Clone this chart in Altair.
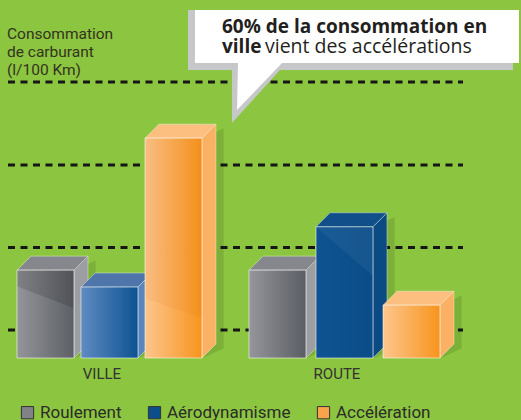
import altair as alt
import pandas as pd

# ---------------- data ----------------
categories = ["VILLE", "ROUTE"]
series = ["Roulement", "Aérodynamisme", "Accélération"]
ville_values = [2.13, 1.72, 5.33]
route_values = [2.13, 3.18, 1.28]
gridlines = [0.68, 2.68, 4.68, 6.69]
title_lines = ["Consommation", "de carburant", "(l/100 Km)"]
bubble_bold_1 = "60% de la consommation en"
bubble_bold_2 = "ville"
bubble_regular_2 = "vient des accélérations"

# ---------------- style / layout ----------------
BG = "#8cc53f"
legend_colors = ["#808288", "#0b4e8b", "#f9a34c"]
front_grad = {
    ("VILLE", 0): ["#939599", "#5c5f65"],
    ("VILLE", 1): ["#5f8bc2", "#0d5291"],
    ("VILLE", 2): ["#fdc68d", "#f7941d"],
    ("ROUTE", 0): ["#94969b", "#5a5d63"],
    ("ROUTE", 1): ["#0f5491", "#0a4c88"],
    ("ROUTE", 2): ["#fdc68d", "#f7941d"],
}
top_colors = {0: "#85878c", 1: None, 2: "#fcbf80"}
top_blue = {"VILLE": "#4e76aa", "ROUTE": "#114f8b"}
side_colors = {0: "#9c9ea2", 1: None, 2: "#fbb164"}
side_blue = {"VILLE": "#5a86bd", "ROUTE": "#0c4a84"}
# glossy diagonal reflections: (drop at left, drop at right) in pixels, colour, opacity
reflections = {
    ("VILLE", 0): (16, 38, "#000000", 0.13),
    ("VILLE", 2): (160, 180, "#c05000", 0.07),
    ("ROUTE", 1): (0, 49, "#ffffff", 0.05),
}

PX_PER_UNIT = 41.25
BAR_W = 0.89              # bar width in slot units
GROUP_STEP = 3.625        # group step in slot units
INNER_STEP = [1.0, 67 / 64]
DX = 14 / 64              # depth in slot units
DY = 14 / PX_PER_UNIT     # depth in value units

xs = alt.Scale(domain=[0, 1], range=[17, 81], zero=False, nice=False)
ys = alt.Scale(domain=[0, 1], range=[358, 358 - PX_PER_UNIT], zero=False, nice=False)

values = {"VILLE": ville_values, "ROUTE": route_values}

rows = []
for g, cat in enumerate(categories):
    for i, s in enumerate(series):
        left = g * GROUP_STEP + i * INNER_STEP[g]
        rows.append(dict(cat=cat, series=s, idx=i, left=left,
                         right=left + BAR_W, v=values[cat][i], base=0.0))
bars = pd.DataFrame(rows)

layers = []

# gridlines
grid_df = pd.DataFrame({"g": gridlines})
layers.append(
    alt.Chart(grid_df).mark_rule(color="#161616", strokeWidth=3, strokeDash=[7, 5.5])
    .encode(y=alt.Y("g:Q", scale=ys, axis=None), x=alt.value(8), x2=alt.value(463))
)

# legend-carrying base layer (hidden under the shaded fronts)
layers.append(
    alt.Chart(bars).mark_rect()
    .encode(
        x=alt.X("left:Q", scale=xs, axis=None), x2="right:Q",
        y=alt.Y("base:Q", scale=ys, axis=None), y2="v:Q",
        color=alt.Color("series:N",
                        scale=alt.Scale(domain=series, range=legend_colors),
                        sort=series,
                        legend=alt.Legend(orient="none", legendX=19, legendY=404,
                                          direction="horizontal", title=None,
                                          symbolType="square", symbolSize=150,
                                          symbolStrokeColor="#333333", symbolStrokeWidth=1,
                                          labelFontSize=17, labelFont="Roboto",
                                          labelColor="#2b2b2b", columnPadding=24,
                                          labelOffset=4, padding=0)),
    )
)

for _, b in bars.iterrows():
    L, R, v, i, cat = b["left"], b["right"], b["v"], b["idx"], b["cat"]
    # soft shadow to the right
    sh = pd.DataFrame({"x": [R + 0.02, R + DX + 0.12], "y": [0.0, DY - 0.1], "y2": [v, v + DY - 0.1]})
    layers.append(
        alt.Chart(sh).mark_area(color="#000000", opacity=0.10)
        .encode(x=alt.X("x:Q", scale=xs, axis=None), y=alt.Y("y:Q", scale=ys, axis=None), y2="y2:Q")
    )
    # side face
    sc = side_colors[i] if side_colors[i] else side_blue[cat]
    side = pd.DataFrame({"x": [R, R + DX], "y": [0.0, DY], "y2": [v, v + DY]})
    layers.append(
        alt.Chart(side).mark_area(color=sc, stroke="rgba(255,255,255,0.45)", strokeWidth=0.8)
        .encode(x=alt.X("x:Q", scale=xs, axis=None), y=alt.Y("y:Q", scale=ys, axis=None), y2="y2:Q")
    )
    # top face
    tc = top_colors[i] if top_colors[i] else top_blue[cat]
    top = pd.DataFrame({"x": [L, L + DX, R, R + DX],
                        "y": [v, v, v, v + DY],
                        "y2": [v, v + DY, v + DY, v + DY]})
    layers.append(
        alt.Chart(top).mark_area(color=tc, stroke="rgba(255,255,255,0.45)", strokeWidth=0.8)
        .encode(x=alt.X("x:Q", scale=xs, axis=None), y=alt.Y("y:Q", scale=ys, axis=None), y2="y2:Q")
    )
    # front face with gradient
    c0, c1 = front_grad[(cat, i)]
    front = pd.DataFrame({"l": [L], "r": [R], "b": [0.0], "v": [v]})
    layers.append(
        alt.Chart(front).mark_rect(
            fill=alt.LinearGradient(gradient="linear",
                                    stops=[alt.GradientStop(color=c0, offset=0),
                                           alt.GradientStop(color=c1, offset=1)],
                                    x1=0, x2=1, y1=0, y2=0))
        .encode(x=alt.X("l:Q", scale=xs, axis=None), x2="r:Q",
                y=alt.Y("b:Q", scale=ys, axis=None), y2="v:Q")
    )
    # reflection
    if (cat, i) in reflections:
        a, bb, col, op = reflections[(cat, i)]
        refl = pd.DataFrame({"x": [L, R], "y": [v - a / PX_PER_UNIT, v - bb / PX_PER_UNIT], "y2": [v, v]})
        layers.append(
            alt.Chart(refl).mark_area(color=col, opacity=op)
            .encode(x=alt.X("x:Q", scale=xs, axis=None), y=alt.Y("y:Q", scale=ys, axis=None), y2="y2:Q")
        )
    # light edge outline of the front face
    layers.append(
        alt.Chart(front).mark_rect(fillOpacity=0, stroke="rgba(255,255,255,0.55)", strokeWidth=1)
        .encode(x=alt.X("l:Q", scale=xs, axis=None), x2="r:Q",
                y=alt.Y("b:Q", scale=ys, axis=None), y2="v:Q")
    )

# category labels
cat_df = pd.DataFrame({"cat": categories,
                       "cx": [g * GROUP_STEP + (2 * INNER_STEP[g] + BAR_W) / 2
                              for g in range(len(categories))]})
layers.append(
    alt.Chart(cat_df).mark_text(font="Roboto", fontSize=15, color="#333333",
                                baseline="middle", align="center", dx=-7.5)
    .encode(x=alt.X("cx:Q", scale=xs, axis=None), y=alt.value(374), text="cat:N")
)

# title at top left
layers.append(
    alt.Chart(pd.DataFrame({"a": [0]})).mark_text(
        text=title_lines, font="Roboto", fontSize=15.5, color="#33331f",
        align="left", baseline="alphabetic", lineHeight=18)
    .encode(x=alt.value(7), y=alt.value(39))
)

# speech bubble (annotation shape)
one = pd.DataFrame({"a": [0]})
gray_path = "M0,0 H325 V60 H92 L44,113 V60 H0 Z"
white_path = "M0,0 H324 V53 H87 L42,100 L43,53 H0 Z"
layers.append(
    alt.Chart(one).mark_point(shape=gray_path, size=4, filled=True, fill="#c6c7c9",
                              strokeWidth=0, opacity=1)
    .encode(x=alt.value(188), y=alt.value(10))
)
layers.append(
    alt.Chart(one).mark_point(shape=white_path, size=4, filled=True, fill="#ffffff",
                              strokeWidth=0, opacity=1)
    .encode(x=alt.value(195), y=alt.value(10))
)
BUBBLE_FONT = "Open Sans"
layers.append(
    alt.Chart(one).mark_text(text=bubble_bold_1, font=BUBBLE_FONT, fontWeight="bold",
                             fontSize=19, color="#231f20", align="left", baseline="alphabetic")
    .encode(x=alt.value(222), y=alt.value(33))
)
layers.append(
    alt.Chart(one).mark_text(text=bubble_bold_2, font=BUBBLE_FONT, fontWeight="bold",
                             fontSize=19, color="#231f20", align="left", baseline="alphabetic")
    .encode(x=alt.value(222), y=alt.value(53))
)
layers.append(
    alt.Chart(one).mark_text(text=bubble_regular_2, font=BUBBLE_FONT,
                             fontSize=19.5, color="#231f20", align="left", baseline="alphabetic")
    .encode(x=alt.value(265), y=alt.value(53))
)

chart = alt.layer(*layers).properties(
    width=521, height=420, padding=0,
    autosize=alt.AutoSizeParams(type="none"),
    background=BG,
).configure_view(stroke=None)

chart.save("out.html", embed_options={"renderer": "svg", "actions": False})
